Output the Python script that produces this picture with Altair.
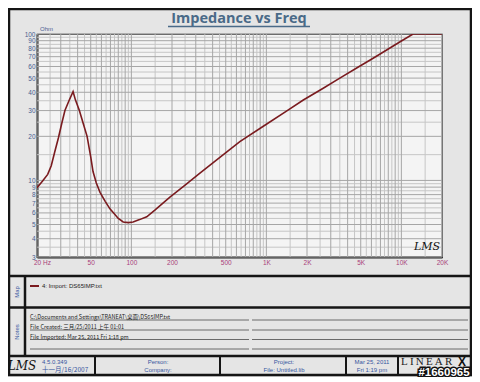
import altair as alt
import pandas as pd

# ---------------- data ----------------
freq = [20, 22, 24, 25.5, 27, 28.8, 30.5, 32.2, 34.5, 37, 38.5, 41.2, 44, 47, 50,
        52, 55, 58.6, 64, 69.4, 75, 80, 87, 95, 103, 115, 130, 150, 193, 250,
        322, 450, 636, 1000, 1400, 1878, 2600, 3500, 4800, 6180, 8000, 10000,
        12200, 15000, 20000]
impedance = [8.9, 9.9, 11.0, 12.6, 15.5, 19.5, 24.5, 30, 35, 40.4, 35.5, 30, 24.5,
             20, 14.5, 11.5, 9.6, 8.3, 7.2, 6.4, 5.9, 5.5, 5.2, 5.15, 5.2, 5.4,
             5.65, 6.3, 7.7, 9.3, 11.2, 14.3, 18.4, 24.2, 29.6, 35.4, 42.3, 50,
             59.5, 68.3, 79, 89.5, 100, 100, 100]

x_tick_values = [20, 50, 100, 200, 500, 1000, 2000, 5000, 10000, 20000]
x_tick_labels = ["20", "50", "100", "200", "500", "1K", "2K", "5K", "10K", "20K"]
y_tick_values = [3, 4, 5, 6, 7, 8, 9, 10, 20, 30, 40, 50, 60, 70, 80, 90, 100]
y_tick_labels = ["3", "4", "5", "6", "7", "8", "9", "10", "20", "30", "40", "50",
                 "60", "70", "80", "90", "100"]

x_grid_major = [20, 30, 40, 50, 60, 70, 80, 90, 100, 200, 300, 400, 500, 600, 700,
                800, 900, 1000, 2000, 3000, 4000, 5000, 6000, 7000, 8000, 9000,
                10000, 20000]
x_grid_minor = [25, 35, 45, 55, 65, 75, 85, 95, 150, 250, 350, 450, 550, 650, 750,
                850, 950, 1500, 2500, 3500, 4500, 5500, 6500, 7500, 8500, 9500,
                15000]
y_grid_major = [3, 4, 5, 6, 7, 8, 9, 10, 20, 30, 40, 50, 60, 70, 80, 90, 100]
y_grid_minor = [3.5, 4.5, 5.5, 6.5, 7.5, 8.5, 9.5, 15, 25, 35, 45, 55, 65, 75, 85, 95]

title_text = "Impedance vs Freq"
legend_text = "4: Import: DS65IMP.txt"
notes_lines = ["C:\\Documents and Settings\\TRANEAT\\桌面\\DS65IMP.txt",
               "File Created: 三月/25/2011 上午 01:01",
               "File Imported: Mar 25, 2011 Fri 1:18 pm"]

# ---------------- styling ----------------
CURVE = "#7a1b1f"
XLAB = "#a8407a"
YLAB = "#4a6090"
BLUE = "#3656a0"
FRAME = "#151515"
SMALL = "Liberation Sans"

x_expr = " : ".join(
    [f"datum.value == {v} ? '{l}'" for v, l in zip(x_tick_values, x_tick_labels)]
) + " : ''"
y_expr = " : ".join(
    [f"datum.value == {v} ? '{l}'" for v, l in zip(y_tick_values, y_tick_labels)]
) + " : ''"

xscale = alt.Scale(type="log", domain=[20, 20000], nice=False)
yscale = alt.Scale(type="log", domain=[3, 100], nice=False)
xaxis = alt.Axis(values=x_tick_values, labelExpr=x_expr, grid=False, ticks=False,
                 domainColor="#222", domainWidth=2, labelColor=XLAB, labelFontSize=6.5,
                 labelFont=SMALL, labelPadding=2, labelOverlap=False, labelFlush=False,
                 title=None)
yaxis = alt.Axis(values=y_tick_values, labelExpr=y_expr, grid=False, ticks=False,
                 domainColor="#222", domainWidth=2, labelColor=YLAB, labelFontSize=6.5,
                 labelFont=SMALL, labelPadding=2, labelOverlap=False, labelFlush=False,
                 title=None)

X = lambda: alt.X("f:Q", scale=xscale, axis=xaxis)
Y = lambda: alt.Y("z:Q", scale=yscale, axis=yaxis)

one = alt.Data(values=[{}])


def txt(px, py, s, size=6, color="#222", align="left", font=SMALL, **kw):
    return alt.Chart(one).mark_text(text=s, fontSize=size, color=color, align=align,
                                    baseline="middle", font=font, **kw).encode(
        x=alt.value(px), y=alt.value(py))


def hline(x1, x2, y, color=FRAME, w=2.5):
    return alt.Chart(one).mark_rule(color=color, strokeWidth=w).encode(
        x=alt.value(x1), x2=alt.value(x2), y=alt.value(y))


def vline(x, y1, y2, color=FRAME, w=2.5):
    return alt.Chart(one).mark_rule(color=color, strokeWidth=w).encode(
        x=alt.value(x), y=alt.value(y1), y2=alt.value(y2))


layers = []

# grid
layers.append(alt.Chart(pd.DataFrame({"f": x_grid_minor})).mark_rule(
    color="#c6c6c6", strokeWidth=1).encode(x=X()))
layers.append(alt.Chart(pd.DataFrame({"z": y_grid_minor})).mark_rule(
    color="#c6c6c6", strokeWidth=1).encode(y=Y()))
layers.append(alt.Chart(pd.DataFrame({"f": x_grid_major})).mark_rule(
    color="#a6a6a6", strokeWidth=1).encode(x=X()))
layers.append(alt.Chart(pd.DataFrame({"z": y_grid_major})).mark_rule(
    color="#a6a6a6", strokeWidth=1).encode(y=Y()))

# curve
curve_df = pd.DataFrame({"f": freq, "z": impedance})
layers.append(alt.Chart(curve_df).mark_line(color=CURVE, strokeWidth=1.6,
                                            clip=True).encode(x=X(), y=Y()))

# frame of the window and panels
layers.append(alt.Chart(one).mark_rect(filled=False, stroke=FRAME, strokeWidth=2.5).encode(
    x=alt.value(-28), x2=alt.value(434), y=alt.value(-25), y2=alt.value(341)))
layers.append(hline(-28, 434, 242))
layers.append(hline(-28, 434, 273.5))
layers.append(hline(-28, 434, 322))
layers.append(vline(-12, 242, 322))
for xv in [58, 183, 309, 361]:
    layers.append(vline(xv, 322, 341, w=2))

# title
layers.append(alt.Chart(one).mark_text(text=title_text, fontSize=14.5, fontWeight="bold",
                                       font="Open Sans", color="#4a6a88", align="center",
                                       baseline="alphabetic").encode(
    x=alt.value(202), y=alt.value(-11)))
layers.append(hline(131, 273, -7.5, color="#4a6a88", w=1.5))

# axis extras
layers.append(txt(3, -5, "Ohm", color=YLAB))
layers.append(txt(6, 229, "Hz", size=6.5, color=XLAB))
layers.append(txt(390, 213, "LMS", size=11, color="#111", align="center",
                  font="DejaVu Serif", fontStyle="italic"))

# map panel
layers.append(txt(-20.5, 258, "Map", color=BLUE, align="center", angle=270))
layers.append(hline(-7, 2, 252, color=CURVE, w=2))
layers.append(txt(5, 252, legend_text))

# notes panel
layers.append(txt(-20.5, 298, "Notes", color=BLUE, align="center", angle=270))
for yv in [286, 296, 305.5, 315]:
    layers.append(hline(-7, 212, yv, color="#6a6a6a", w=1))
    layers.append(hline(215, 431, yv, color="#6a6a6a", w=1))
for yv, s in zip([283, 293, 302.5], notes_lines):
    layers.append(txt(-7, yv, s, size=5.5, font="Noto Sans CJK SC"))

# footer
layers.append(txt(-15, 332, "LMS", size=12, color="#111", align="center",
                  font="DejaVu Serif", fontStyle="italic"))
layers.append(txt(5, 327.5, "4.5.0.349", color=BLUE))
layers.append(txt(5, 336, "十一月/16/2007", size=6.5, color=BLUE, font="Noto Sans CJK SC"))
layers.append(txt(121, 327.5, "Person:", color=BLUE, align="center"))
layers.append(txt(121, 336, "Company:", color=BLUE, align="center"))
layers.append(txt(247, 327.5, "Project:", color=BLUE, align="center"))
layers.append(txt(247, 336, "File: Untitled.lib", color=BLUE, align="center"))
layers.append(txt(335, 327.5, "Mar 25, 2011", color=BLUE, align="center"))
layers.append(txt(335, 336, "Fri  1:19 pm", color=BLUE, align="center"))
layers.append(txt(364, 328, "L\u2009I\u2009N\u2009E\u2009A\u2009R", size=11, color="#222",
                  font="Liberation Serif"))
layers.append(txt(425, 328, "X", size=12, color="#111", align="center",
                  font="Liberation Sans", fontWeight="bold"))

# watermark
layers.append(txt(407, 338.5, "#1660965", size=11.5, color="#111", align="center",
                  font="Liberation Sans", fontWeight="bold", stroke="#111",
                  strokeWidth=3))
layers.append(txt(407, 338.5, "#1660965", size=11.5, color="#ffffff", align="center",
                  font="Liberation Sans", fontWeight="bold"))

chart = alt.layer(*layers).properties(
    width=405, height=223,
    padding={"left": 29, "top": 26, "right": 30, "bottom": 120},
    autosize=alt.AutoSizeParams(type="none"),
    background="#e5e5e5",
).configure_view(fill="#f4f4f4", stroke="#333", strokeWidth=1.2)

chart.save("out.html", embed_options={"renderer": "svg", "actions": False})
